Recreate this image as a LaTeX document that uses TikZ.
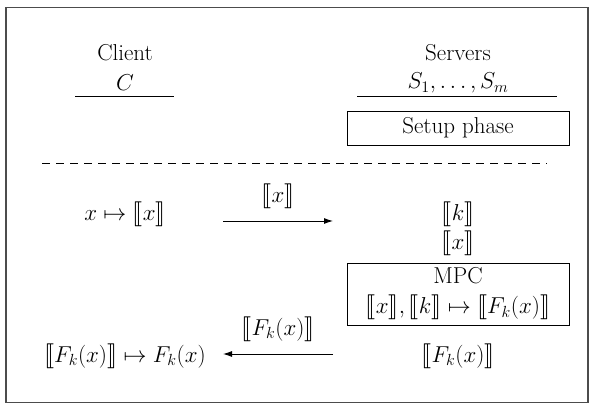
\documentclass[tikz,border=0pt]{standalone}
\usepackage{fix-cm}
\usepackage{stmaryrd}
\usetikzlibrary{arrows.meta}
\newcommand{\shr}[1]{\llbracket #1\rrbracket}
\newcommand{\mth}{\fontsize{23}{27}\selectfont}
\begin{document}
\begin{tikzpicture}[x=1pt,y=-1pt,
  lbl/.style={inner sep=0pt,font=\fontsize{23}{27}\selectfont},
  mlbl/.style={inner sep=0pt,font=\mth},
  boxed/.style={draw,line width=0.9pt,inner sep=0pt,font=\fontsize{23}{27}\selectfont},
  conn/.style={line width=0.9pt,-{Latex[length=9pt,width=6pt]}},
  rule/.style={line width=0.9pt}]
\useasboundingbox (0,0) rectangle (594,411);
\draw[line width=1.6pt,draw=black!70] (6,7.5) rectangle (588,402.5);
% headers
\node[lbl] (client) at (125,53) {Client};
\node[mlbl] (C) at (125,83) {$C$};
\coordinate (cl1) at (75,96); \coordinate (cl2) at (174,96);
\draw[rule] (cl1) -- (cl2);
\node[lbl] (servers) at (458,53) {Servers};
\node[mlbl] (S) at (458,83) {$S_1,\ldots,S_m$};
\coordinate (sl1) at (357,96); \coordinate (sl2) at (557,96);
\draw[rule] (sl1) -- (sl2);
\node[boxed,minimum width=222pt,minimum height=34pt] (setup) at (458,128) {Setup phase};
\coordinate (d1) at (42,163); \coordinate (d2) at (547,163);
\draw[rule,dash pattern=on 8pt off 6pt] (d1) -- (d2);
% round
\node[mlbl] (enc) at (125,214) {$x\mapsto\shr{x}$};
\coordinate (a1s) at (223,221); \coordinate (a1e) at (333,221);
\draw[conn] (a1s) -- node[mlbl,above=12pt] (sx) {$\shr{x}$} (a1e);
\node[mlbl] (k) at (458,214) {$\shr{k}$};
\node[mlbl] (x2) at (458,243) {$\shr{x}$};
\node[boxed,minimum width=222pt,minimum height=62pt,align=center] (mpc) at (458,294)
  {MPC\\[3pt] {\mth$\shr{x},\shr{k}\mapsto\shr{F_k(x)}$}};
\coordinate (a2s) at (333,354); \coordinate (a2e) at (223,354);
\draw[conn] (a2s) -- node[mlbl,above=12pt] (sf) {$\shr{F_k(x)}$} (a2e);
\node[mlbl] (fs) at (458,356) {$\shr{F_k(x)}$};
\node[mlbl] (dec) at (125,356) {$\shr{F_k(x)}\mapsto F_k(x)$};
\end{tikzpicture}
\end{document}
